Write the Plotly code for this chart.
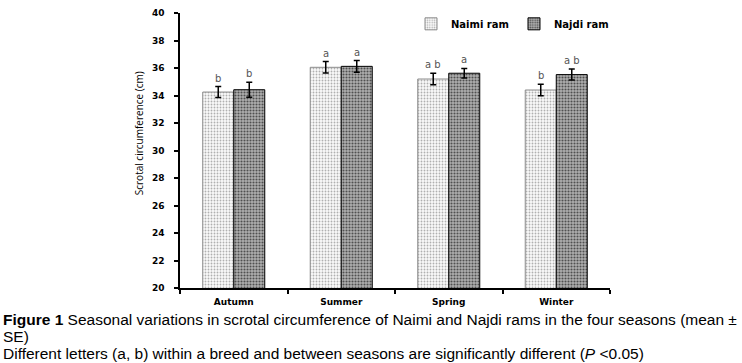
import plotly.graph_objects as go

seasons = ["Autumn", "Summer", "Spring", "Winter"]
naimi = [34.25, 36.05, 35.2, 34.4]
naimi_se = [0.4, 0.42, 0.42, 0.42]
najdi = [34.42, 36.12, 35.62, 35.52]
najdi_se = [0.55, 0.42, 0.35, 0.4]
naimi_letters = ["b", "a", "a b", "b"]
najdi_letters = ["b", "a", "a", "a b"]
y_ticks = [20, 22, 24, 26, 28, 30, 32, 34, 36, 38, 40]

fig = go.Figure()
fig.add_trace(go.Bar(
    name="Naimi ram", x=seasons, y=naimi,
    error_y=dict(type="data", array=naimi_se, color="black", thickness=1.5, width=3),
    marker=dict(color="#f6f6f6", line=dict(color="#8a8a8a", width=1),
                pattern=dict(shape=".", fgcolor="#b0b0b0", bgcolor="#fafafa",
                             size=3, solidity=0.3, fillmode="replace")),
))
fig.add_trace(go.Bar(
    name="Najdi ram", x=seasons, y=najdi,
    error_y=dict(type="data", array=najdi_se, color="black", thickness=1.5, width=3),
    marker=dict(color="#9a9a9a", line=dict(color="black", width=1),
                pattern=dict(shape=".", fgcolor="#505050", bgcolor="#b0b0b0",
                             size=3, solidity=0.4, fillmode="replace")),
))

annotations = []
for i, s in enumerate(seasons):
    annotations.append(dict(x=s, y=naimi[i] + naimi_se[i], xref="x", yref="y",
                            text=naimi_letters[i], showarrow=False, xshift=-15.5,
                            yanchor="bottom", yshift=1,
                            font=dict(family="DejaVu Sans", size=10, color="#555555")))
    annotations.append(dict(x=s, y=najdi[i] + najdi_se[i], xref="x", yref="y",
                            text=najdi_letters[i], showarrow=False, xshift=15.5,
                            yanchor="bottom", yshift=1,
                            font=dict(family="DejaVu Sans", size=10, color="#555555")))

# y-axis title
annotations.append(dict(x=-41 / 430, y=(288 - 131) / 279, xref="paper", yref="paper",
                        text="Scrotal circumference (cm)", textangle=-90, showarrow=False,
                        xanchor="center", yanchor="middle",
                        font=dict(family="Open Sans", size=10, color="black")))

# caption
cap_font = dict(family="Liberation Sans", size=15.5, color="black")
cap_lines = [
    ("<b>Figure 1</b> Seasonal variations in scrotal circumference of Naimi and Najdi rams in the four seasons (mean ±", 320),
    ("SE)", 337),
    ("Different letters (a, b) within a breed and between seasons are significantly different (<i>P</i> <0.05)", 354),
]
for txt, py in cap_lines:
    annotations.append(dict(x=(1 - 180) / 430, y=(288 - py) / 279, xref="paper", yref="paper",
                            text=txt, showarrow=False, xanchor="left", yanchor="middle",
                            font=cap_font))

fig.update_layout(
    width=742, height=363,
    margin=dict(l=180, r=132, t=9, b=75),
    paper_bgcolor="white", plot_bgcolor="white",
    barmode="group", bargap=0.423, bargroupgap=0,
    showlegend=True,
    legend=dict(orientation="h", x=(411 - 180) / 430, y=(288 - 20) / 279,
                xanchor="left", yanchor="middle", itemwidth=30,
                font=dict(family="DejaVu Sans", size=10, color="black", weight="bold"),
                bgcolor="rgba(0,0,0,0)"),
    xaxis=dict(showline=True, linecolor="black", linewidth=1.5, ticks="outside",
               tickson="boundaries", ticklen=4, tickcolor="black", tickwidth=1.5,
               tickfont=dict(family="DejaVu Sans", size=9, color="black", weight="bold"),
               ticklabelstandoff=4, showgrid=False),
    yaxis=dict(range=[20, 40], tickvals=y_ticks, showline=True, linecolor="black",
               linewidth=1.5, ticks="outside", ticklen=4, tickcolor="black", tickwidth=1.5,
               tickfont=dict(family="DejaVu Sans", size=9, color="black", weight="bold"),
               ticklabelstandoff=8, showgrid=False, zeroline=False),
    annotations=annotations,
)

fig.write_html("out.html", config={"displayModeBar": False},
               post_script="document.body.style.margin='0';document.body.style.overflow='hidden';")
